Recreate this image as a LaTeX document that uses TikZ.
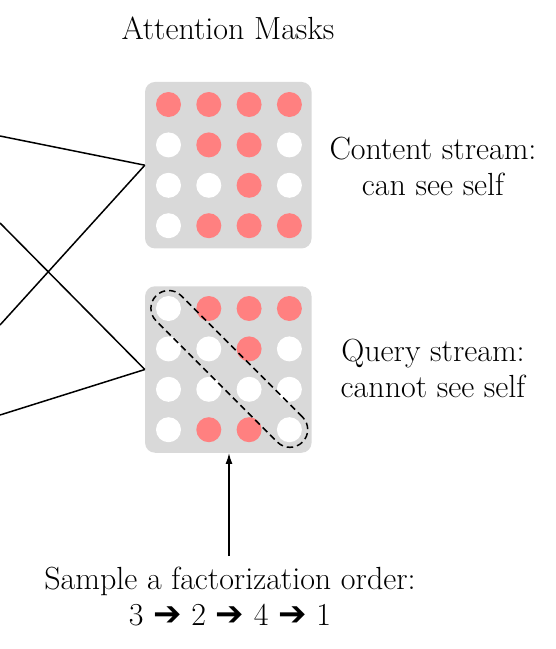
\documentclass[tikz,border=0pt]{standalone}
\usepackage{fontspec}
\usetikzlibrary{arrows.meta}
\newfontfamily\arrowfont{DejaVu Sans}
\definecolor{maskgray}{HTML}{D9D9D9}
\definecolor{maskred}{HTML}{FF8080}
\newcommand\ordarrow{{\arrowfont\bfseries\fontsize{34}{36}\selectfont ➔}}
\begin{document}
\begin{tikzpicture}[x=1pt,y=-1pt,
  maskbox/.style={fill=maskgray, rounded corners=10pt, minimum width=166.5pt, minimum height=166.5pt, inner sep=0pt},
  dotr/.style={circle, fill=maskred, minimum size=25pt, inner sep=0pt},
  dotw/.style={circle, fill=white, minimum size=25pt, inner sep=0pt},
  lbl/.style={font=\fontsize{32}{36}\selectfont, align=center},
  link/.style={line width=1.5pt},
  diagring/.style={draw, dash pattern=on 6.5pt off 4pt, line width=1.5pt, rounded corners=17.7pt, minimum width=207pt, minimum height=35.5pt, inner sep=0pt, rotate=-45}]
\useasboundingbox (0,0) rectangle (556,649);
% mask boxes
\node[maskbox] (cbox) at (228.3,165.2) {};
\node[maskbox] (qbox) at (228.3,369.5) {};
% circles
\foreach \c [count=\i from 0] in {r,r,r,r, w,r,r,w, w,w,r,w, w,r,r,r} {
  \pgfmathtruncatemacro\col{mod(\i,4)}
  \pgfmathtruncatemacro\rw{div(\i,4)}
  \node[dot\c] (t\i) at ({168.5+40.3*\col},{104.5+40.4*\rw}) {};
}
\foreach \c [count=\i from 0] in {w,r,r,r, w,w,r,w, w,w,w,w, w,r,r,w} {
  \pgfmathtruncatemacro\col{mod(\i,4)}
  \pgfmathtruncatemacro\rw{div(\i,4)}
  \node[dot\c] (q\i) at ({168.5+40.3*\col},{308.5+40.4*\rw}) {};
}
% dashed diagonal
\node[diagring] (diag) at (229.3,368.9) {};
% texts
\node[lbl] (title) at (228,28) {Attention Masks};
\node[lbl] (clbl) at (433,166) {Content stream:\\can see self};
\node[lbl] (qlbl) at (433,368) {Query stream:\\cannot see self};
\node[lbl] (order) at (230,597) {Sample a factorization order:\\3 \ordarrow{} 2 \ordarrow{} 4 \ordarrow{} 1};
% connectors from left
\coordinate (l1) at (0,136);
\coordinate (l2) at (0,223);
\coordinate (l3) at (0,325);
\coordinate (l4) at (0,415);
\draw[link] (l1) -- (cbox.west);
\draw[link] (l3) -- (cbox.west);
\draw[link] (l2) -- (qbox.west);
\draw[link] (l4) -- (qbox.west);
% arrow from order
\coordinate (astart) at (229,556);
\draw[link,-{Latex[length=11pt,width=7pt]}] (astart) -- (astart |- qbox.south);
\end{tikzpicture}
\end{document}
